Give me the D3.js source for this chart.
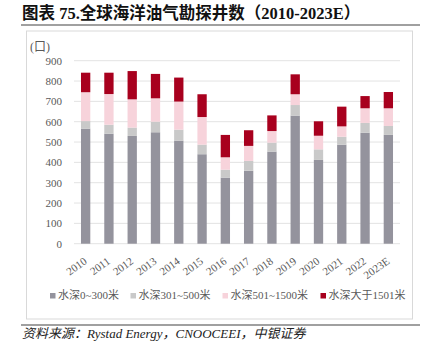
<!DOCTYPE html>
<html>
    <head>
        <meta charset="utf-8">
        <title>全球海洋油气勘探井数</title>
        <script src="https://d3js.org/d3.v7.min.js"></script>
    </head>
    <style>
        body { margin: 0; background: #fff; }
    </style>
    <body>
        <div id="my_dataviz"></div>
        <script>
            // 数据
            var years = ["2010","2011","2012","2013","2014","2015","2016","2017","2018","2019","2020","2021","2022","2023E"];
            var depth0_300    = [566, 541, 530, 548, 507, 440, 325, 359, 453, 630, 412, 487, 546, 535];
            var depth301_500  = [37, 44, 41, 52, 54, 47, 39, 48, 44, 52, 52, 39, 48, 44];
            var depth501_1500 = [142, 151, 139, 115, 138, 136, 61, 74, 57, 53, 67, 51, 72, 87];
            var depthOver1501 = [96, 105, 139, 120, 118, 112, 110, 77, 77, 98, 71, 97, 60, 80];
            var seriesNames = ["水深0~300米", "水深301~500米", "水深501~1500米", "水深大于1501米"];
            var yTicks = [0, 100, 200, 300, 400, 500, 600, 700, 800, 900];

            var colors = ["#94939d", "#c9c9c9", "#f7d3db", "#a8001e"];
            var serif = "'Liberation Serif', 'Noto Sans CJK SC', serif";

            var W = 438, H = 341;
            var svg = d3.select("#my_dataviz").append("svg")
                .attr("width", W).attr("height", H);

            // 标题
            svg.append("text")
                .attr("x", 22).attr("y", 19)
                .attr("font-family", serif)
                .attr("font-size", 16.5)
                .attr("font-weight", "bold")
                .attr("fill", "#111")
                .text("图表 75.全球海洋油气勘探井数（2010-2023E）");
            svg.append("line")
                .attr("x1", 21).attr("x2", 420).attr("y1", 25).attr("y2", 25)
                .attr("stroke", "#808080").attr("stroke-width", 1.5);

            // 外框
            svg.append("rect")
                .attr("x", 26.5).attr("y", 31).attr("width", 386).attr("height", 288)
                .attr("fill", "none").attr("stroke", "#d9d9d9").attr("stroke-width", 1);

            var x = d3.scaleBand().domain(years).range([74, 400]).paddingInner(0.6).paddingOuter(0.3);
            var y = d3.scaleLinear().domain([0, 900]).range([243.7, 60.7]);

            // 网格线
            svg.append("g").selectAll("line").data(yTicks).enter().append("line")
                .attr("x1", 74).attr("x2", 400)
                .attr("y1", function(d) { return y(d); })
                .attr("y2", function(d) { return y(d); })
                .attr("stroke", "#e3e3e3").attr("stroke-width", 1);

            // y轴
            var yAxis = svg.append("g")
                .attr("transform", "translate(74,0)")
                .call(d3.axisLeft(y).tickValues(yTicks).tickSize(0).tickPadding(12));
            yAxis.select(".domain").remove();
            yAxis.selectAll("text")
                .attr("font-family", serif).attr("font-size", 11).attr("fill", "#595959");

            svg.append("text")
                .attr("x", 30).attr("y", 51)
                .attr("font-family", serif).attr("font-size", 12).attr("fill", "#595959")
                .text("(口)");

            // 堆叠
            var table = years.map(function(yr, i) {
                return { year: yr, a: depth0_300[i], b: depth301_500[i], c: depth501_1500[i], d: depthOver1501[i] };
            });
            var stack = d3.stack().keys(["a", "b", "c", "d"])(table);

            svg.append("g").selectAll("g").data(stack).enter().append("g")
                .attr("fill", function(d, i) { return colors[i]; })
                .selectAll("rect").data(function(d) { return d; }).enter().append("rect")
                .attr("x", function(d) { return x(d.data.year); })
                .attr("width", x.bandwidth())
                .attr("y", function(d) { return y(d[1]); })
                .attr("height", function(d) { return y(d[0]) - y(d[1]); });

            // x轴标签
            var xAxis = svg.append("g")
                .attr("transform", "translate(0,243.7)")
                .call(d3.axisBottom(x).tickSize(0).tickPadding(0));
            xAxis.select(".domain").remove();
            xAxis.selectAll("text")
                .attr("font-family", serif).attr("font-size", 11).attr("fill", "#595959")
                .attr("text-anchor", "end")
                .attr("dy", null).attr("y", 0)
                .attr("transform", "translate(2,19) rotate(-36)");

            // 图例
            var legendX = [50, 130.5, 222.5, 320.5];
            var lg = svg.append("g").selectAll("g").data(seriesNames).enter().append("g")
                .attr("transform", function(d, i) { return "translate(" + legendX[i] + ",293)"; });
            lg.append("rect").attr("width", 5.5).attr("height", 5.5)
                .attr("fill", function(d, i) { return colors[i]; });
            lg.append("text").attr("x", 8).attr("y", 6)
                .attr("font-family", serif).attr("font-size", 11).attr("fill", "#595959")
                .text(function(d) { return d; });

            // 资料来源
            svg.append("line")
                .attr("x1", 21).attr("x2", 420).attr("y1", 325).attr("y2", 325)
                .attr("stroke", "#808080").attr("stroke-width", 1.5);
            svg.append("text")
                .attr("x", 22).attr("y", 338)
                .attr("font-family", serif).attr("font-size", 13).attr("font-style", "italic")
                .attr("fill", "#222")
                .text("资料来源：Rystad Energy，CNOOCEEI，中银证券");
        </script>
    </body>
</html>
